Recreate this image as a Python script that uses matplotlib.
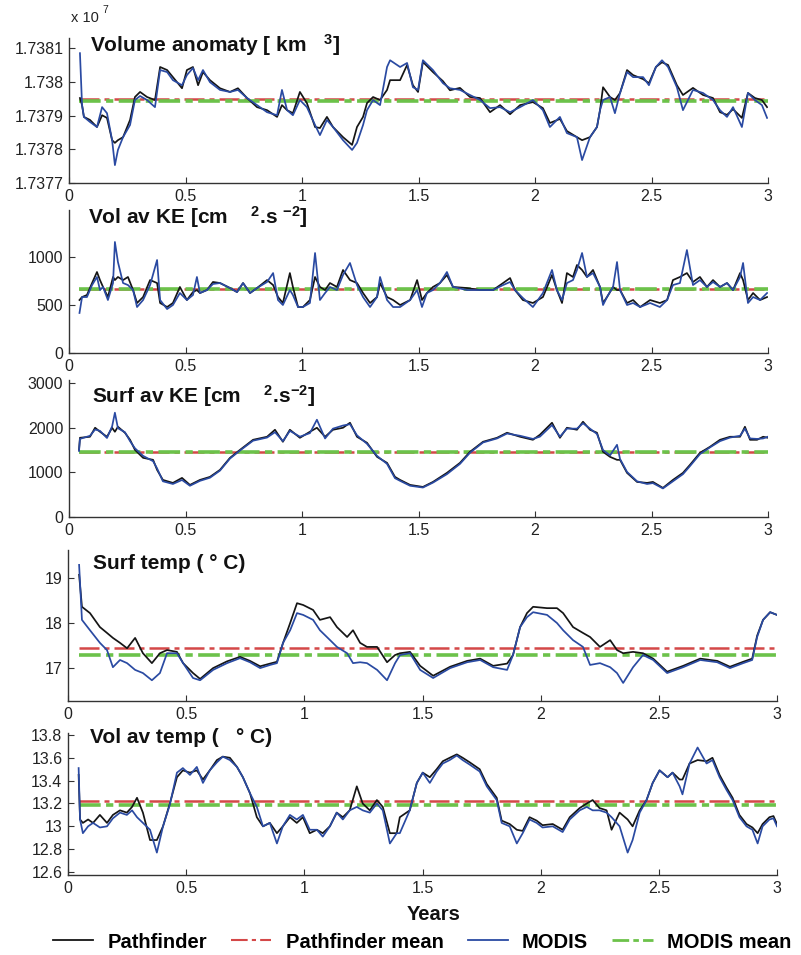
import numpy as np
import matplotlib
matplotlib.use("Agg")
import matplotlib.pyplot as plt
from matplotlib.lines import Line2D

plt.rcParams['font.family'] = ['Liberation Sans', 'DejaVu Sans']
plt.rcParams['mathtext.fontset'] = 'custom'
plt.rcParams['mathtext.rm'] = 'Liberation Sans:bold'
plt.rcParams['mathtext.it'] = 'Liberation Sans:bold'
plt.rcParams['mathtext.bf'] = 'Liberation Sans:bold'
plt.rcParams['mathtext.default'] = 'rm'

# ---------------------------------------------------------------- data
# Volume anomaly (x 1e7 km^3)
t_vol = [0.047, 0.056, 0.064, 0.090, 0.120, 0.142, 0.163, 0.185, 0.197, 0.210,
         0.232, 0.262, 0.283, 0.305, 0.335, 0.369, 0.391, 0.421, 0.446, 0.485,
         0.506, 0.532, 0.554, 0.575, 0.605, 0.648, 0.691, 0.725, 0.764, 0.807,
         0.850, 0.893, 0.914, 0.936, 0.961, 0.991, 1.021, 1.056, 1.077, 1.107,
         1.133, 1.176, 1.215, 1.236, 1.262, 1.279, 1.305, 1.335, 1.365, 1.378,
         1.421, 1.451, 1.476, 1.498, 1.519, 1.562, 1.605, 1.635, 1.678, 1.721,
         1.764, 1.807, 1.850, 1.893, 1.936, 1.991, 2.034, 2.064, 2.107, 2.137,
         2.180, 2.202, 2.236, 2.266, 2.279, 2.292, 2.322, 2.343, 2.365, 2.395,
         2.421, 2.464, 2.489, 2.519, 2.545, 2.571, 2.609, 2.635, 2.678, 2.721,
         2.764, 2.794, 2.824, 2.850, 2.888, 2.914, 2.944, 2.974, 2.996]
vol_pathfinder = [1.737952, 1.737931, 1.737896, 1.737887, 1.737866, 1.737901, 1.737893, 1.737827, 1.737819, 1.737827,
                  1.737836, 1.737887, 1.737955, 1.737970, 1.737955, 1.737946, 1.738044, 1.738035, 1.738014, 1.737981,
                  1.738035, 1.738044, 1.737990, 1.738029, 1.738005, 1.737981, 1.737970, 1.737981, 1.737952, 1.737925,
                  1.737916, 1.737896, 1.737931, 1.737916, 1.737907, 1.737970, 1.737937, 1.737866, 1.737863, 1.737896,
                  1.737866, 1.737836, 1.737813, 1.737866, 1.737896, 1.737937, 1.737955, 1.737946, 1.737976, 1.738005,
                  1.738005, 1.738050, 1.737990, 1.737970, 1.738059, 1.738029, 1.738002, 1.737975, 1.737982, 1.737955,
                  1.737952, 1.737910, 1.737931, 1.737904, 1.737931, 1.737940, 1.737922, 1.737878, 1.737890, 1.737854,
                  1.737836, 1.737827, 1.737836, 1.737866, 1.737916, 1.737984, 1.737955, 1.737946, 1.737967, 1.738035,
                  1.738020, 1.738008, 1.737996, 1.738044, 1.738058, 1.738050, 1.737990, 1.737961, 1.737982, 1.737961,
                  1.737952, 1.737910, 1.737902, 1.737919, 1.737893, 1.737967, 1.737952, 1.737946, 1.737925]
vol_modis = [1.738085, 1.737931, 1.737896, 1.737881, 1.737866, 1.737925, 1.737907, 1.737827, 1.737753, 1.737798,
             1.737836, 1.737872, 1.737946, 1.737958, 1.737946, 1.737925, 1.738035, 1.738029, 1.738005, 1.737990,
             1.738020, 1.738041, 1.738005, 1.738035, 1.737999, 1.737976, 1.737970, 1.737976, 1.737952, 1.737931,
             1.737910, 1.737901, 1.737976, 1.737916, 1.737901, 1.737946, 1.737925, 1.737872, 1.737842, 1.737887,
             1.737866, 1.737827, 1.737798, 1.737819, 1.737872, 1.737916, 1.737946, 1.737931, 1.738044, 1.738064,
             1.738044, 1.738056, 1.737984, 1.737976, 1.738064, 1.738035, 1.737996, 1.737981, 1.737976, 1.737961,
             1.737946, 1.737922, 1.737925, 1.737910, 1.737925, 1.737946, 1.737916, 1.737866, 1.737896, 1.737848,
             1.737836, 1.737768, 1.737836, 1.737866, 1.737916, 1.737946, 1.737955, 1.737907, 1.737967, 1.738029,
             1.738014, 1.738014, 1.737990, 1.738044, 1.738064, 1.738044, 1.737984, 1.737916, 1.737976, 1.737967,
             1.737946, 1.737916, 1.737896, 1.737925, 1.737866, 1.737967, 1.737946, 1.737931, 1.737893]
vol_pathfinder_mean = 1.737950
vol_modis_mean = 1.737943

# Volume-averaged kinetic energy (cm^2 s^-2)
t_vke = [0.045, 0.056, 0.077, 0.099, 0.120, 0.133, 0.146, 0.167, 0.189, 0.197,
         0.210, 0.232, 0.253, 0.275, 0.292, 0.318, 0.348, 0.378, 0.391, 0.421,
         0.446, 0.476, 0.506, 0.532, 0.549, 0.562, 0.592, 0.618, 0.648, 0.691,
         0.721, 0.747, 0.777, 0.807, 0.850, 0.876, 0.897, 0.918, 0.948, 0.961,
         0.983, 1.004, 1.034, 1.056, 1.077, 1.099, 1.120, 1.150, 1.176, 1.206,
         1.236, 1.262, 1.292, 1.322, 1.335, 1.365, 1.391, 1.421, 1.464, 1.494,
         1.515, 1.536, 1.562, 1.592, 1.622, 1.648, 1.708, 1.764, 1.820, 1.863,
         1.893, 1.914, 1.948, 1.991, 2.034, 2.073, 2.094, 2.116, 2.137, 2.163,
         2.180, 2.202, 2.223, 2.249, 2.279, 2.292, 2.309, 2.335, 2.352, 2.365,
         2.395, 2.421, 2.451, 2.494, 2.536, 2.567, 2.592, 2.622, 2.652, 2.678,
         2.708, 2.738, 2.764, 2.794, 2.824, 2.850, 2.880, 2.893, 2.914, 2.936,
         2.966, 2.996]
vke_pathfinder = [552, 583, 604, 729, 844, 760, 688, 583, 792, 760,
                  792, 760, 792, 656, 521, 583, 760, 729, 521, 479,
                  521, 688, 552, 635, 656, 625, 656, 740, 729, 677,
                  635, 729, 625, 677, 760, 708, 583, 521, 833, 688,
                  479, 479, 552, 792, 688, 656, 729, 688, 865, 760,
                  729, 625, 521, 583, 729, 583, 552, 500, 552, 760,
                  552, 625, 688, 729, 813, 688, 677, 656, 656, 729,
                  781, 656, 552, 521, 583, 813, 656, 521, 833, 792,
                  917, 865, 792, 865, 688, 521, 583, 688, 656, 656,
                  521, 552, 479, 552, 521, 552, 760, 792, 833, 740,
                  792, 688, 760, 688, 729, 656, 833, 760, 552, 625,
                  552, 583]
vke_modis = [417, 583, 583, 708, 792, 656, 688, 552, 729, 1157,
             948, 729, 708, 656, 479, 552, 708, 969, 552, 458,
             500, 625, 552, 604, 792, 625, 656, 719, 729, 677,
             635, 729, 625, 677, 740, 833, 552, 500, 656, 604,
             479, 479, 521, 1042, 552, 625, 688, 656, 813, 938,
             708, 583, 479, 583, 792, 552, 479, 479, 552, 656,
             479, 625, 656, 729, 844, 688, 656, 656, 656, 708,
             740, 656, 573, 479, 625, 865, 656, 552, 729, 760,
             865, 1042, 792, 833, 688, 500, 583, 688, 948, 656,
             500, 521, 479, 521, 479, 552, 708, 729, 1073, 708,
             760, 688, 740, 688, 729, 656, 792, 938, 521, 583,
             552, 625]
vke_pathfinder_mean = 668
vke_modis_mean = 662

# Surface-averaged kinetic energy (cm^2 s^-2)
t_ske = [0.043, 0.047, 0.090, 0.112, 0.133, 0.163, 0.185, 0.197, 0.210, 0.240,
         0.262, 0.283, 0.318, 0.361, 0.378, 0.403, 0.446, 0.485, 0.519, 0.562,
         0.605, 0.648, 0.691, 0.734, 0.790, 0.850, 0.884, 0.918, 0.948, 0.991,
         1.034, 1.064, 1.099, 1.133, 1.176, 1.206, 1.236, 1.279, 1.322, 1.365,
         1.399, 1.421, 1.464, 1.519, 1.562, 1.622, 1.678, 1.721, 1.777, 1.837,
         1.880, 1.936, 1.991, 2.021, 2.073, 2.107, 2.137, 2.180, 2.206, 2.236,
         2.266, 2.292, 2.322, 2.352, 2.365, 2.395, 2.438, 2.481, 2.506, 2.549,
         2.592, 2.635, 2.665, 2.708, 2.751, 2.794, 2.837, 2.880, 2.901, 2.923,
         2.953, 2.979, 3.000]
ske_pathfinder = [1505, 1775, 1798, 2000, 1910, 1798, 2000, 1910, 2022, 1888,
                  1730, 1505, 1326, 1281, 1056, 831, 764, 876, 719, 831,
                  899, 1056, 1326, 1505, 1730, 1798, 1955, 1686, 1955, 1775,
                  1910, 2000, 1798, 1955, 2000, 2112, 1798, 1663, 1348, 1213,
                  899, 831, 719, 674, 786, 989, 1213, 1461, 1686, 1775,
                  1888, 1798, 1730, 1843, 2112, 1775, 2000, 1955, 2135, 1955,
                  1888, 1461, 1348, 1281, 1281, 989, 786, 764, 786, 652,
                  831, 989, 1168, 1438, 1573, 1730, 1798, 1798, 2022, 1730,
                  1730, 1798, 1775]
ske_modis = [1480, 1750, 1820, 1960, 1930, 1770, 2030, 2337, 1990, 1900,
             1700, 1540, 1370, 1250, 1090, 800, 740, 830, 700, 810,
             880, 1040, 1310, 1490, 1710, 1780, 1900, 1700, 1930, 1800,
             1880, 2180, 1760, 1980, 2050, 2080, 1830, 1640, 1370, 1190,
             870, 810, 700, 660, 770, 960, 1190, 1440, 1670, 1760,
             1870, 1820, 1750, 1800, 2060, 1800, 1980, 1980, 2100, 1980,
             1860, 1500, 1380, 1618, 1300, 1010, 800, 740, 760, 640,
             800, 960, 1140, 1410, 1560, 1700, 1780, 1820, 1980, 1760,
             1750, 1760, 1800]
ske_pathfinder_mean = 1455
ske_modis_mean = 1460

# Surface temperature (deg C)
t_sst = [0.047, 0.059, 0.093, 0.135, 0.165, 0.190, 0.220, 0.250, 0.284, 0.317,
         0.355, 0.389, 0.419, 0.461, 0.487, 0.529, 0.559, 0.614, 0.673, 0.728,
         0.770, 0.813, 0.855, 0.884, 0.910, 0.940, 0.969, 0.995, 1.037, 1.066,
         1.109, 1.138, 1.181, 1.206, 1.236, 1.265, 1.308, 1.350, 1.384, 1.405,
         1.447, 1.490, 1.545, 1.617, 1.689, 1.744, 1.799, 1.858, 1.883, 1.913,
         1.942, 1.968, 2.027, 2.069, 2.095, 2.137, 2.179, 2.209, 2.251, 2.294,
         2.323, 2.349, 2.391, 2.433, 2.476, 2.535, 2.603, 2.675, 2.747, 2.801,
         2.857, 2.895, 2.916, 2.941, 2.971, 3.000]
sst_pathfinder = [19.07, 18.36, 18.22, 17.91, 17.78, 17.67, 17.56, 17.44, 17.67, 17.33,
                  17.11, 17.33, 17.40, 17.36, 17.11, 16.89, 16.76, 17.00, 17.15, 17.25,
                  17.16, 17.04, 17.10, 17.14, 17.56, 18.00, 18.44, 18.40, 18.29, 18.07,
                  18.13, 17.91, 17.69, 17.84, 17.56, 17.47, 17.47, 17.13, 17.29, 17.33,
                  17.36, 17.05, 16.83, 17.03, 17.16, 17.21, 17.05, 17.10, 17.29, 17.91,
                  18.22, 18.36, 18.33, 18.33, 18.22, 17.91, 17.78, 17.69, 17.47, 17.62,
                  17.40, 17.33, 17.36, 17.33, 17.21, 16.92, 17.05, 17.21, 17.16, 17.03,
                  17.14, 17.21, 17.72, 18.07, 18.24, 18.18]
sst_modis = [19.29, 18.07, 17.84, 17.56, 17.40, 17.02, 17.18, 17.11, 16.96, 16.89,
             16.73, 16.89, 17.33, 17.33, 17.11, 16.78, 16.73, 16.96, 17.11, 17.22,
             17.13, 17.00, 17.07, 17.11, 17.56, 17.84, 18.22, 18.18, 18.07, 17.84,
             17.62, 17.47, 17.33, 17.11, 17.13, 17.11, 16.96, 16.73, 17.11, 17.29,
             17.33, 16.96, 16.78, 17.00, 17.13, 17.18, 17.02, 16.96, 17.29, 17.91,
             18.13, 18.24, 18.18, 18.00, 17.84, 17.62, 17.47, 17.07, 17.11, 17.02,
             16.89, 16.67, 17.02, 17.29, 17.18, 16.89, 17.02, 17.18, 17.13, 17.00,
             17.11, 17.18, 17.69, 18.07, 18.24, 18.18]
sst_pathfinder_mean = 17.44
sst_modis_mean = 17.29

# Volume-averaged temperature (deg C)
t_vt = [0.045, 0.051, 0.063, 0.085, 0.106, 0.135, 0.165, 0.190, 0.220, 0.249,
        0.271, 0.292, 0.317, 0.347, 0.376, 0.402, 0.431, 0.461, 0.486, 0.516,
        0.545, 0.571, 0.600, 0.630, 0.655, 0.685, 0.715, 0.740, 0.770, 0.799,
        0.825, 0.854, 0.884, 0.909, 0.939, 0.968, 0.994, 1.023, 1.053, 1.078,
        1.108, 1.137, 1.163, 1.192, 1.222, 1.247, 1.277, 1.307, 1.332, 1.362,
        1.391, 1.404, 1.446, 1.476, 1.501, 1.531, 1.560, 1.586, 1.615, 1.645,
        1.670, 1.700, 1.742, 1.772, 1.814, 1.835, 1.869, 1.899, 1.924, 1.953,
        1.983, 2.008, 2.051, 2.093, 2.123, 2.165, 2.195, 2.220, 2.249, 2.279,
        2.300, 2.334, 2.368, 2.389, 2.419, 2.448, 2.474, 2.503, 2.537, 2.558,
        2.588, 2.600, 2.630, 2.664, 2.702, 2.727, 2.757, 2.786, 2.812, 2.841,
        2.871, 2.896, 2.918, 2.939, 2.968, 2.985, 3.000]
vt_pathfinder = [13.45, 13.06, 13.03, 13.06, 13.03, 13.10, 13.03, 13.10, 13.14, 13.12,
                 13.17, 13.25, 13.12, 12.88, 12.88, 13.00, 13.20, 13.43, 13.49, 13.47,
                 13.49, 13.41, 13.49, 13.58, 13.61, 13.60, 13.52, 13.43, 13.29, 13.08,
                 13.00, 13.03, 12.94, 13.00, 13.08, 13.03, 13.08, 12.94, 12.97, 12.94,
                 13.00, 13.12, 13.08, 13.14, 13.35, 13.20, 13.14, 13.23, 13.17, 12.94,
                 12.94, 13.08, 13.14, 13.38, 13.47, 13.43, 13.50, 13.57, 13.60, 13.63,
                 13.60, 13.56, 13.50, 13.37, 13.25, 13.05, 13.02, 12.97, 12.96, 13.08,
                 13.05, 13.01, 13.02, 12.97, 13.08, 13.16, 13.20, 13.23, 13.16, 13.14,
                 12.97, 13.12, 13.06, 13.00, 13.14, 13.23, 13.38, 13.49, 13.43, 13.47,
                 13.41, 13.41, 13.55, 13.58, 13.57, 13.60, 13.45, 13.34, 13.25, 13.10,
                 13.02, 12.99, 12.94, 13.02, 13.08, 13.09, 13.02]
vt_modis = [13.51, 13.06, 12.94, 13.00, 13.03, 12.99, 13.00, 13.07, 13.12, 13.10,
            13.14, 13.08, 13.03, 12.97, 12.77, 13.00, 13.19, 13.47, 13.51, 13.45,
            13.52, 13.38, 13.49, 13.56, 13.61, 13.58, 13.52, 13.43, 13.29, 13.17,
            13.00, 13.03, 12.85, 13.00, 13.10, 13.06, 13.10, 12.97, 12.97, 12.91,
            13.00, 13.12, 13.06, 13.14, 13.17, 13.14, 13.12, 13.20, 13.14, 12.85,
            12.94, 12.94, 13.14, 13.38, 13.47, 13.38, 13.48, 13.55, 13.58, 13.62,
            13.58, 13.54, 13.48, 13.35, 13.23, 13.03, 13.00, 12.85, 12.94, 13.06,
            13.03, 12.99, 13.00, 12.95, 13.06, 13.14, 13.17, 13.14, 13.14, 13.12,
            13.08, 13.00, 12.77, 12.88, 13.12, 13.23, 13.38, 13.49, 13.43, 13.47,
            13.35, 13.28, 13.55, 13.69, 13.55, 13.58, 13.43, 13.32, 13.23, 13.08,
            13.00, 12.97, 12.85, 13.00, 13.06, 13.07, 13.00]
vt_pathfinder_mean = 13.22
vt_modis_mean = 13.19

x_ticks = [0, 0.5, 1, 1.5, 2, 2.5, 3]
x_tick_labels = ['0', '0.5', '1', '1.5', '2', '2.5', '3']
legend_labels = ['Pathfinder', 'Pathfinder mean', 'MODIS', 'MODIS mean']

# ---------------------------------------------------------------- style
C_PF = '#151515'
C_MD = '#2a4aa2'
C_PF_MEAN = '#d44848'
C_MD_MEAN = '#6cc24a'
TEXT = '#222222'
PF_MEAN_DASH = (0, (8, 2, 2, 2))
MD_MEAN_DASH = (0, (6, 1.5, 2, 1.5))

W, H = 801, 955
fig = plt.figure(figsize=(W / 100, H / 100), dpi=100)
fig.patch.set_facecolor('white')


def box(left, right, top, bottom):
    """Axes rectangle given in pixel edges measured from the top-left."""
    return [left / W, 1 - bottom / H, (right - left) / W, (bottom - top) / H]


panels = [
    dict(rect=box(69, 768, 38, 183), t=t_vol, pf=vol_pathfinder, md=vol_modis,
         pfm=vol_pathfinder_mean, mdm=vol_modis_mean, ylim=(1.7377, 1.73813),
         yticks=[1.7377, 1.7378, 1.7379, 1.738, 1.7381],
         ylabels=['1.7377', '1.7378', '1.7379', '1.738', '1.7381'],
         title=r'Volume anomaty [ km   $^{3}$]', tpos=(0.030, 0.95)),
    dict(rect=box(69, 768, 210, 353), t=t_vke, pf=vke_pathfinder, md=vke_modis,
         pfm=vke_pathfinder_mean, mdm=vke_modis_mean, ylim=(0, 1490),
         yticks=[0, 500, 1000], ylabels=['0', '500', '1000'],
         title=r'Vol av KE [cm    $^{2}$.s $^{-2}$]', tpos=(0.027, 0.95)),
    dict(rect=box(69, 768, 380, 517), t=t_ske, pf=ske_pathfinder, md=ske_modis,
         pfm=ske_pathfinder_mean, mdm=ske_modis_mean, ylim=(0, 3070),
         yticks=[0, 1000, 2000, 3000], ylabels=['0', '1000', '2000', '3000'],
         title=r'Surf av KE [cm    $^{2}$.s$^{-2}$]', tpos=(0.033, 0.88)),
    dict(rect=box(68, 777, 550, 701), t=t_sst, pf=sst_pathfinder, md=sst_modis,
         pfm=sst_pathfinder_mean, mdm=sst_modis_mean, ylim=(16.27, 19.62),
         yticks=[17, 18, 19], ylabels=['17', '18', '19'],
         title='Surf temp ( \u00b0 C)', tpos=(0.035, 0.91)),
    dict(rect=box(68, 777, 733, 875), t=t_vt, pf=vt_pathfinder, md=vt_modis,
         pfm=vt_pathfinder_mean, mdm=vt_modis_mean, ylim=(12.574, 13.817),
         yticks=[12.6, 12.8, 13.0, 13.2, 13.4, 13.6, 13.8],
         ylabels=['12.6', '12.8', '13', '13.2', '13.4', '13.6', '13.8'],
         title='Vol av temp (   \u00b0 C)', tpos=(0.031, 0.965)),
]

for p in panels:
    ax = fig.add_axes(p['rect'])
    t = np.asarray(p['t'])
    ax.plot(t, p['pf'], color=C_PF, lw=1.25, zorder=3)
    ax.plot([0.045, 3.0], [p['pfm'], p['pfm']], color=C_PF_MEAN, lw=1.8,
            linestyle=PF_MEAN_DASH, zorder=2)
    ax.plot(t, p['md'], color=C_MD, lw=1.25, zorder=4)
    ax.plot([0.045, 3.0], [p['mdm'], p['mdm']], color=C_MD_MEAN, lw=2.6,
            linestyle=MD_MEAN_DASH, zorder=2.5)

    ax.set_xlim(0, 3)
    ax.set_ylim(*p['ylim'])
    ax.set_xticks(x_ticks)
    ax.set_xticklabels(x_tick_labels)
    ax.set_yticks(p['yticks'])
    ax.set_yticklabels(p['ylabels'])
    for s in ('top', 'right'):
        ax.spines[s].set_visible(False)
    for s in ('left', 'bottom'):
        ax.spines[s].set_color('#333333')
        ax.spines[s].set_linewidth(1.0)
    ax.tick_params(direction='in', length=4, width=0.8, colors='#333333',
                   labelsize=11.5, labelcolor=TEXT, pad=4)
    ax.set_facecolor('none')
    ax.text(p['tpos'][0], p['tpos'][1], p['title'], transform=ax.transAxes,
            fontsize=15, fontweight='bold', ha='left', va='center', color='#111111')

# multiplier of the top panel
fig.text(71 / W, 1 - 18 / H, 'x 10', fontsize=10.5, color=TEXT, ha='left', va='center')
fig.text(102 / W, 1 - 10 / H, '7', fontsize=7.5, color=TEXT, ha='left', va='center')

fig.text(434 / W, 1 - 914 / H, 'Years', fontsize=14.5, fontweight='bold',
         ha='center', va='center', color='#111111')

handles = [Line2D([], [], color=C_PF, lw=1.3),
           Line2D([], [], color=C_PF_MEAN, lw=1.5, linestyle=PF_MEAN_DASH),
           Line2D([], [], color=C_MD, lw=1.3),
           Line2D([], [], color=C_MD_MEAN, lw=2.0, linestyle=MD_MEAN_DASH)]
fig.legend(handles, legend_labels, loc='center', bbox_to_anchor=(422 / W, 1 - 942 / H),
           ncol=4, frameon=False, prop={'weight': 'bold', 'size': 14.5},
           handlelength=2.0, handletextpad=0.7, columnspacing=1.2)

fig.savefig('out.png', dpi=100, facecolor='white')
